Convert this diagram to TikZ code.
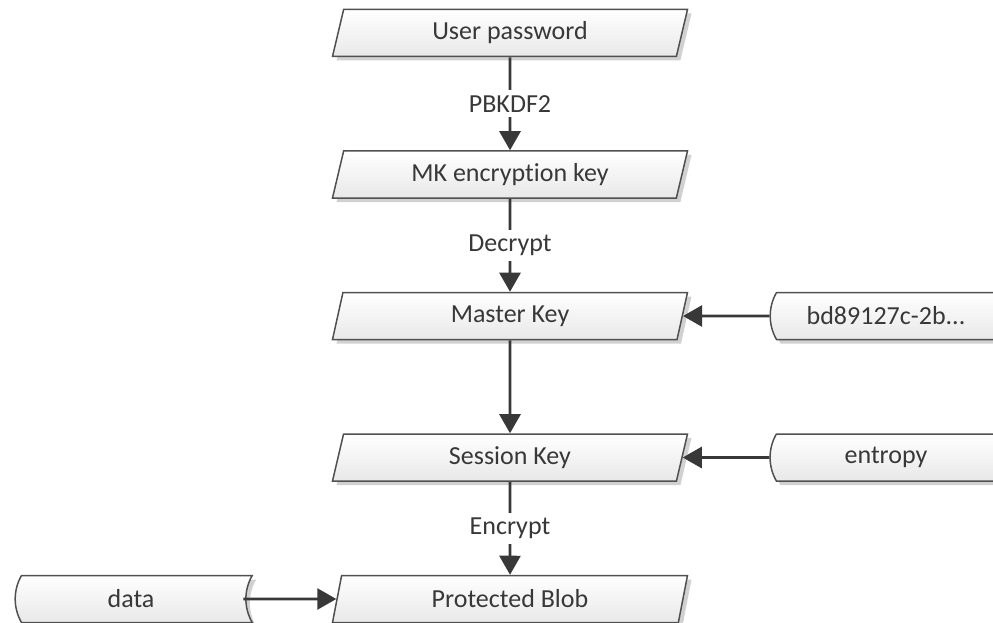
\documentclass[tikz,border=0pt]{standalone}
\usepackage{fontspec}
\setmainfont{Carlito}[Ligatures={NoCommon}]
\usetikzlibrary{shapes.geometric,shapes.misc,shadows,arrows.meta}
\definecolor{ink}{HTML}{383838}
\definecolor{rim}{HTML}{505050}
\tikzset{node distance=141.5pt,
  >={Triangle[length=19pt,width=21pt]},
  every node/.style={font=\fontsize{26}{31}\selectfont, text=ink},
  io/.style={trapezium, trapezium left angle=63.4, trapezium right angle=116.6,
    trapezium stretches body, minimum width=355pt, minimum height=47pt, inner sep=0pt,
    draw=rim, line width=1.5pt, top color=white, bottom color=black!9,
    drop shadow={shadow xshift=4pt, shadow yshift=-4pt, opacity=0.18, fill=black}},
  store/.style={rounded rectangle, rounded rectangle left arc=convex,
    rounded rectangle right arc=concave, rounded rectangle arc length=60,
    minimum width=237pt, minimum height=47pt, inner sep=0pt,
    draw=rim, line width=1.5pt, top color=white, bottom color=black!9,
    drop shadow={shadow xshift=4pt, shadow yshift=-4pt, opacity=0.18, fill=black}},
  lbl/.style={fill=white, inner sep=5pt},
  flow/.style={->, draw=ink, line width=2.7pt}
}

\begin{document}
\begin{tikzpicture}
  \useasboundingbox (-510pt,33pt) rectangle (483pt,-590pt);

  \node (P) [io] {User password};
  \node (K) [io, below of=P] {MK encryption key};
  \node (M) [io, below of=K] {Master Key};
  \node (S) [io, below of=M] {Session Key};
  \node (B) [io, below of=S] {Protected Blob};

  \node (G) [store, right of=M, node distance=376pt] {bd89127c-2b...};
  \node (E) [store, right of=S, node distance=376pt] {entropy};
  \node (D) [store, left of=B, node distance=379pt] {data};

  \draw[flow] (P) to node[lbl] {PBKDF2} (K);
  \draw[flow] (K) to node[lbl] {Decrypt} (M);
  \draw[flow] (M) to (S);
  \draw[flow] (S) to node[lbl] {Encrypt} (B);

  \draw[flow] (G) to (M);
  \draw[flow] (E) to (S);
  \draw[flow] ([xshift=-10pt]D.east) to (B);
\end{tikzpicture}
\end{document}
